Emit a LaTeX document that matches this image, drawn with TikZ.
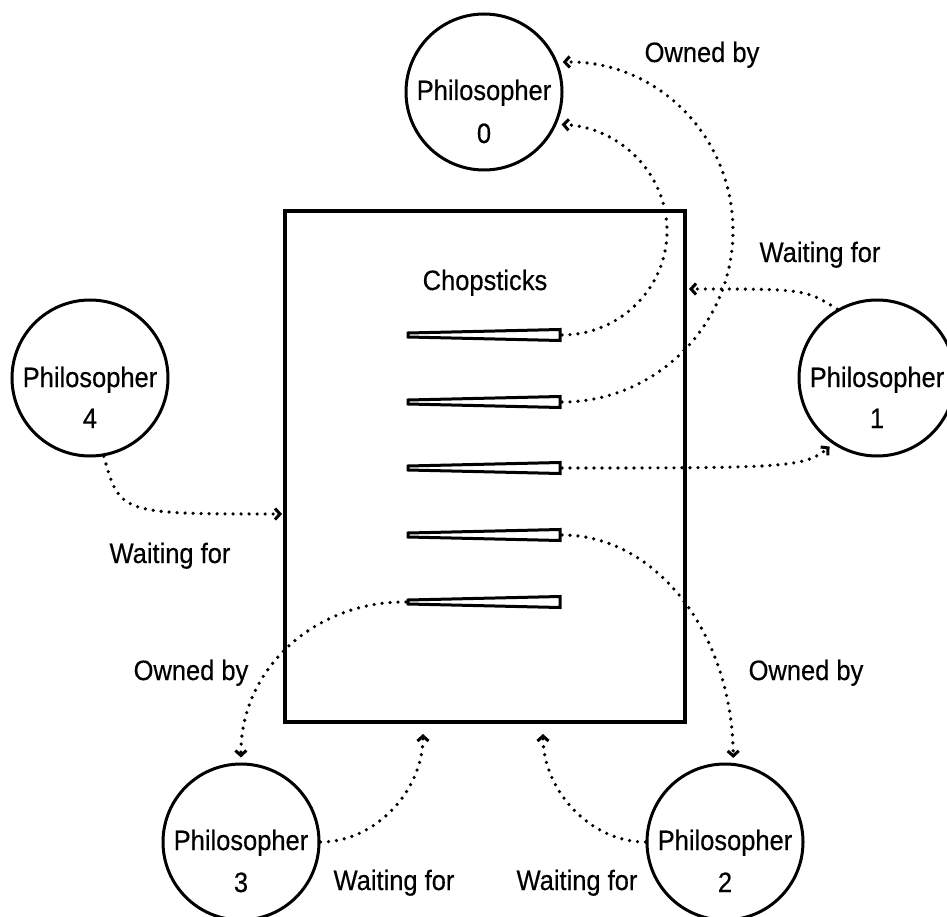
\documentclass[tikz,border=0pt]{standalone}
\usepackage{fontspec}
\setmainfont{Liberation Sans}[FakeStretch=0.91,FakeBold=0.4]
\usetikzlibrary{arrows.meta}
\begin{document}
\begin{tikzpicture}[x=1pt,y=-1pt,
  phil/.style={circle,draw,line width=3pt,minimum size=156pt,inner sep=0pt},
  txt/.style={font=\fontsize{28}{30}\selectfont,anchor=base,inner sep=0pt},
  boxstyle/.style={draw,line width=3.5pt,minimum width=400pt,minimum height=511pt,inner sep=0pt},
  stick/.style={line width=3pt,line join=miter},
  conn/.style={line width=3.6pt,line cap=round,dash pattern=on 0pt off 8pt,
    -{Straight Barb[length=5pt,width=11pt,line width=3pt]}}]
\useasboundingbox (0,0) rectangle (947,917);

% box
\node[boxstyle] (box) at (485,466.5) {};
\node[txt] (chop) at (485,290) {Chopsticks};

% chopsticks
\foreach \i/\yy in {1/335,2/402,3/468,4/535,5/602}{
  \draw[stick] (408,\yy-2) -- (560,\yy-5.5) -- (560,\yy+5.5) -- (408,\yy+2) -- cycle;
  \coordinate (c\i w) at (406,\yy);
  \coordinate (c\i e) at (562,\yy);
}

% philosophers
\node[phil] (p0) at (484,92) {};
\node[txt] (p0t) at (484,100) {Philosopher};
\node[txt] (p0n) at (484,143) {0};
\node[phil] (p1) at (877,378) {};
\node[txt] (p1t) at (877,387) {Philosopher};
\node[txt] (p1n) at (877,428) {1};
\node[phil] (p2) at (725,842) {};
\node[txt] (p2t) at (725,850) {Philosopher};
\node[txt] (p2n) at (725,892) {2};
\node[phil] (p3) at (241,842) {};
\node[txt] (p3t) at (241,850) {Philosopher};
\node[txt] (p3n) at (241,892) {3};
\node[phil] (p4) at (90,378) {};
\node[txt] (p4t) at (90,387) {Philosopher};
\node[txt] (p4n) at (90,428) {4};

% free ends on the box
\coordinate (r1) at (689,289);
\coordinate (r4) at (282,514);
\coordinate (r2) at (543,734);
\coordinate (r3) at (423,734);

% connectors
\draw[conn,shorten >=5pt] (c1e) .. controls (620,335) and (667,288) .. (667,231)
   .. controls (667,174) and (620,127) .. (p0.-24);
\draw[conn,shorten >=5pt] (c2e) .. controls (656,402) and (733,325) .. (733,231)
   .. controls (733,136) and (657,60) .. (p0.22);
\draw[conn] (p1.120) .. controls (805,289) .. (r1);
\draw[conn,shorten >=4pt] (c3e) .. controls (780,468) and (805,468) .. (p1.236);
\draw[conn] (p4.280) .. controls (120,514) .. (r4);
\draw[conn,shorten >=5pt] (c4e) .. controls (656,535) and (732,633) .. (p2.84);
\draw[conn] (p2.west) .. controls (590,842) and (543,790) .. (r2);
\draw[conn] (p3.east) .. controls (376,842) and (423,790) .. (r3);
\draw[conn,shorten >=5pt] (c5w) .. controls (314,601) and (240,670) .. (p3.north);

% labels
\node[txt] (l1) at (702,62) {Owned by};
\node[txt] (l2) at (820,262) {Waiting for};
\node[txt] (l4) at (170,563) {Waiting for};
\node[txt] (l5) at (191,680) {Owned by};
\node[txt] (l6) at (806,680) {Owned by};
\node[txt] (l7) at (394,890) {Waiting for};
\node[txt] (l8) at (577,890) {Waiting for};
\end{tikzpicture}
\end{document}
